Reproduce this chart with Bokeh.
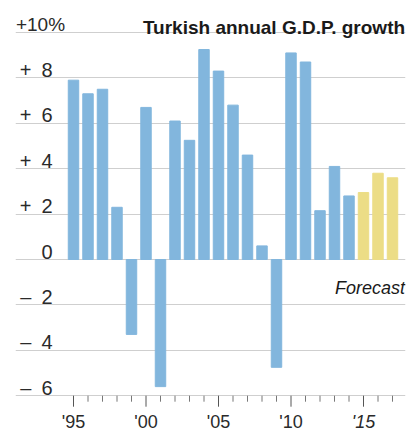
from bokeh.plotting import figure
from bokeh.models import ColumnDataSource, FixedTicker, Label, Range1d
from bokeh.embed import file_html
from bokeh.resources import INLINE

# ---- data ----
years = list(range(1995, 2018))
growth = [7.9, 7.3, 7.5, 2.3, -3.3, 6.7, -5.6, 6.1, 5.25, 9.25, 8.3, 6.8,
          4.6, 0.6, -4.75, 9.1, 8.7, 2.15, 4.1, 2.8, 2.95, 3.8, 3.6]
forecast_years = [2015, 2016, 2017]
y_tick_values = [10, 8, 6, 4, 2, 0, -2, -4, -6]
y_tick_labels = ["+10%", "+\u20028", "+\u20026", "+\u20024", "+\u20022", "0",
                 "\u2013\u20022", "\u2013\u20024", "\u2013\u20026"]
x_tick_years = [1995, 2000, 2005, 2010, 2015]
x_tick_labels = ["'95", "'00", "'05", "'10", "'15"]
title_text = "Turkish annual G.D.P. growth"
forecast_text = "Forecast"

BLUE = "#82b6dd"
YELLOW = "#ecdd86"
GRID = "#cfcfcf"
TEXT = "#2a2a2a"

W, H = 411, 432
BORDER_L, BORDER_R = 15, 6
PX_YEAR = 14.5
PX_UNIT = 22.7
ZERO_PX = 259

X0 = 1991.0
X1 = X0 + (W - BORDER_L - BORDER_R) / PX_YEAR
Y1 = ZERO_PX / PX_UNIT
Y0 = -(H - ZERO_PX) / PX_UNIT

colors = [YELLOW if y in forecast_years else BLUE for y in years]
src = ColumnDataSource(dict(x=years, top=growth, color=colors))

p = figure(width=W, height=H, output_backend="svg", toolbar_location=None,
           x_range=Range1d(X0, X1), y_range=Range1d(Y0, Y1),
           min_border_left=BORDER_L, min_border_right=BORDER_R,
           min_border_top=0, min_border_bottom=0)
p.outline_line_color = None
p.xaxis.visible = False
p.yaxis.visible = False
p.xgrid.visible = False
p.ygrid.ticker = FixedTicker(ticks=y_tick_values)
p.ygrid.grid_line_color = GRID
p.ygrid.grid_line_width = 1
p.ygrid.level = "underlay"

p.vbar(x="x", top="top", bottom=0, width=0.72, color="color", source=src)

# axis ticks along the bottom (-6) line
base = min(y_tick_values)
major_x = [y for y in years if y in x_tick_years]
minor_x = [y for y in years if y not in x_tick_years]
p.segment(x0=major_x, y0=[base] * len(major_x), x1=major_x,
          y1=[base - 11 / PX_UNIT] * len(major_x), line_color="#555555", line_width=1)
p.segment(x0=minor_x, y0=[base] * len(minor_x), x1=minor_x,
          y1=[base - 6 / PX_UNIT] * len(minor_x), line_color="#777777", line_width=1)

# y labels inside the plot, above gridlines
for v, t in zip(y_tick_values, y_tick_labels):
    if t.endswith("%"):
        lx, al, fs = X0 + 0.03, "left", "19px"
    else:
        lx, al, fs = X0 + 37 / PX_YEAR, "right", "20px"
    p.add_layout(Label(x=lx, y=v + 8 / PX_UNIT, text=t, text_font="Liberation Sans",
                       text_font_size=fs, text_color=TEXT, text_align=al,
                       text_baseline="alphabetic"))

# x labels
for yr, t in zip(x_tick_years, x_tick_labels):
    p.add_layout(Label(x=yr, y=-(431 - ZERO_PX) / PX_UNIT, text=t,
                       text_font="Liberation Sans", text_font_size="18px",
                       text_font_style="italic" if yr in forecast_years else "normal",
                       text_color=TEXT, text_align="center", text_baseline="bottom"))

# title
p.add_layout(Label(x=X1 - 0.03, y=(ZERO_PX - 27) / PX_UNIT, text=title_text,
                   text_font="Liberation Sans", text_font_size="19px",
                   text_font_style="bold", text_color="#1a1a1a",
                   text_align="right", text_baseline="alphabetic"))

# forecast note
p.add_layout(Label(x=X1 - 0.03, y=-(287 - ZERO_PX) / PX_UNIT, text=forecast_text,
                   text_font="Liberation Sans", text_font_size="18px",
                   text_font_style="italic", text_color="#1a1a1a",
                   text_align="right", text_baseline="alphabetic"))

open("out.html", "w").write(file_html(p, INLINE))
